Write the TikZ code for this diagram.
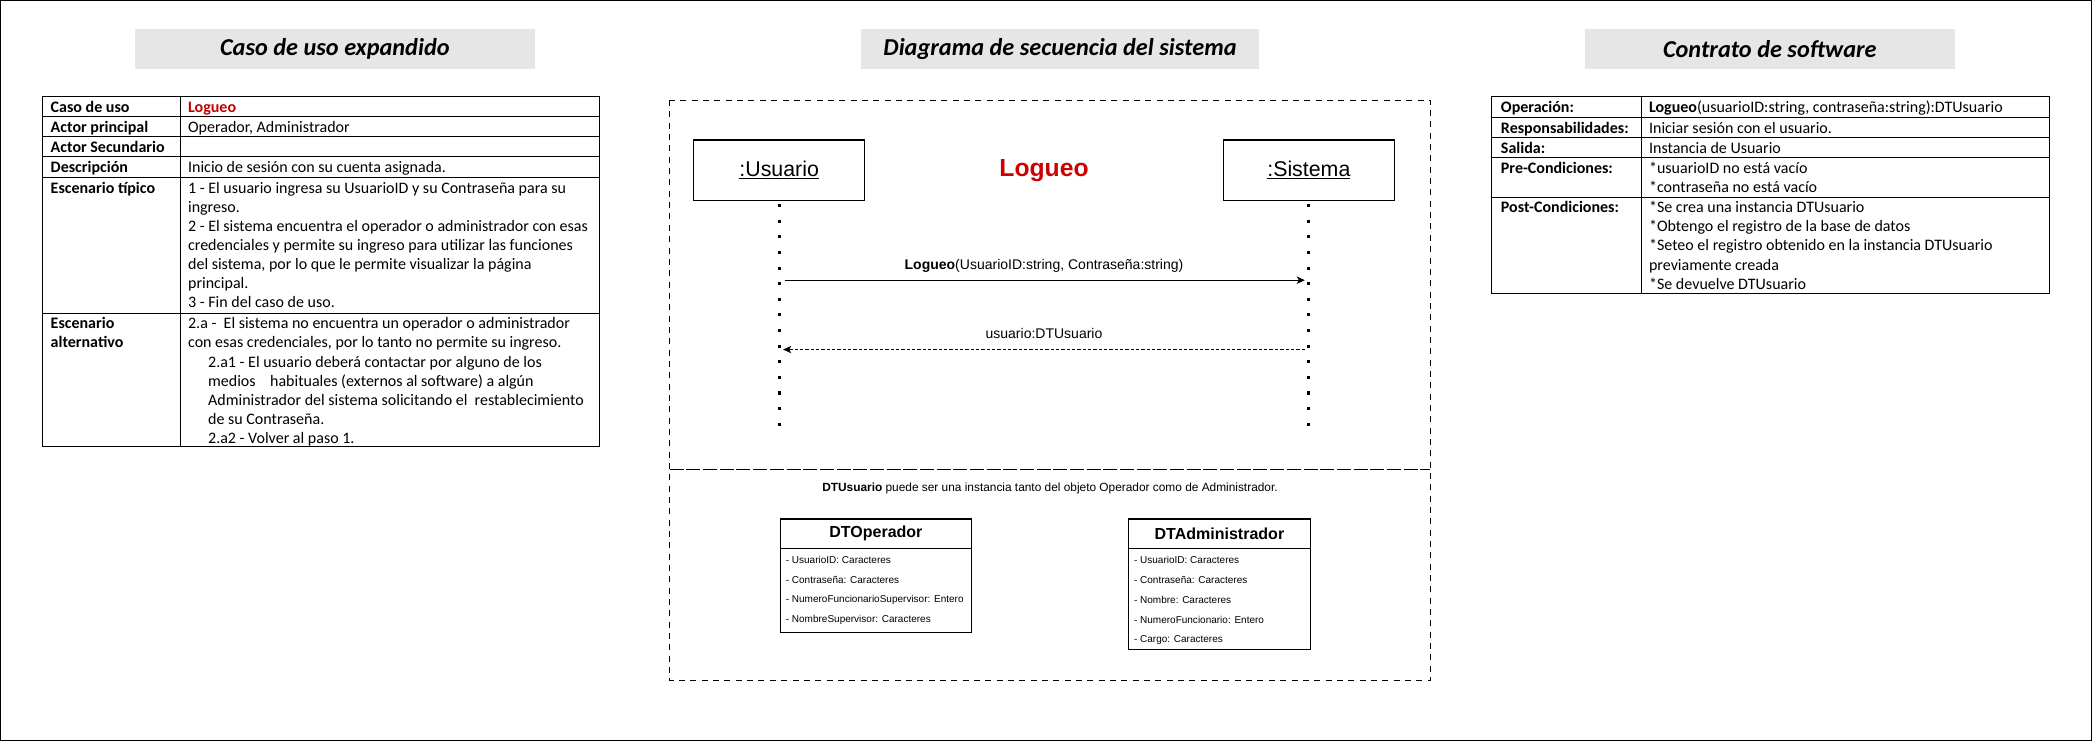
\documentclass[tikz,border=0pt]{standalone}
\usepackage{fontspec}
\setmainfont{Carlito}
\newfontfamily\arialf{Liberation Sans}
\usetikzlibrary{arrows.meta}
\definecolor{ttlgray}{HTML}{E6E6E6}
\definecolor{lred}{HTML}{C00000}
\definecolor{sred}{HTML}{CC0000}
\begin{document}
\begin{tikzpicture}[x=1pt,y=-1pt,
  every node/.style={inner sep=0pt, outer sep=0pt},
  grid/.style={draw=black, line width=0.8pt},
  lab/.style={anchor=base west, font=\fontsize{12}{14.3}\selectfont\bfseries},
  val/.style={anchor=base west, font=\fontsize{12}{14.3}\selectfont},
  ttl/.style={fill=ttlgray, minimum height=30pt, font=\fontsize{18.2}{20}\selectfont\bfseries\itshape},
  actor/.style={draw=black, line width=0.9pt, minimum width=128pt, minimum height=45pt, font=\arialf\fontsize{16}{18}\selectfont},
  lifeline/.style={line width=2.3pt, dash pattern=on 2.3pt off 9.4pt},
  msg/.style={line width=0.9pt, -{Stealth[length=6pt,width=5.5pt,inset=1.5pt]}},
  retmsg/.style={msg, dash pattern=on 2.5pt off 1.5pt},
  msglab/.style={anchor=base, font=\arialf\fontsize{10.5}{12}\selectfont},
  clshead/.style={draw=black, line width=0.8pt, anchor=north west, minimum height=22pt, font=\arialf\bfseries\fontsize{12}{14}\selectfont},
  clsbody/.style={draw=black, line width=0.8pt, anchor=north west},
  attr/.style={anchor=west, font=\arialf\fontsize{7.5}{9}\selectfont},
  frame/.style={line width=0.75pt, dash pattern=on 4.5pt off 4pt},
  divider/.style={line width=0.75pt, dash pattern=on 10.5pt off 2pt}
]
\useasboundingbox (0,0) rectangle (1568,555.4);
\draw[line width=1pt] (0.5,0.5) rectangle (1567.5,554.9);

% ---- titles
\node[ttl, minimum width=300pt] (t1) at (251,37) {Caso de uso expandido};
\node[ttl, minimum width=299pt] (t2) at (794.5,37) {Diagrama de secuencia del sistema};
\node[ttl, minimum width=277pt] (t3) at (1326.5,37) {Contrato de software};

% ---- left table
\draw[grid] (32,72) rectangle (449,335);
\draw[grid] (135,72) -- (135,335);
\foreach \yy in {87,102,117,133,235} \draw[grid] (32,\yy) -- (449,\yy);
\node[lab] (la1) at (38,84) {Caso de uso};
\node[lab, text=lred] (lb1) at (141,84) {Logueo};
\node[lab] (la2) at (38,99) {Actor principal};
\node[val] (lb2) at (141,99) {Operador, Administrador};
\node[lab] (la3) at (38,114) {Actor Secundario};
\node[lab] (la4) at (38,129.5) {Descripción};
\node[val] (lb4) at (141,129.5) {Inicio de sesión con su cuenta asignada.};
\node[lab] (la5) at (38,145) {Escenario típico};
\foreach \t [count=\i] in {
  {1 - El usuario ingresa su UsuarioID y su Contraseña para su},
  {ingreso.},
  {2 - El sistema encuentra el operador o administrador con esas},
  {credenciales y permite su ingreso para utilizar las funciones},
  {del sistema, por lo que le permite visualizar la página},
  {principal.},
  {3 - Fin del caso de uso.}}
  \node[val] (esc\i) at (141,145+14.3*\i-14.3) {\t};
\node[lab] (la6a) at (38,246.5) {Escenario};
\node[lab] (la6b) at (38,260.8) {alternativo};
\foreach \t/\xx [count=\i] in {
  {2.a -\ \ El sistema no encuentra un operador o administrador}/141,
  {con esas credenciales, por lo tanto no permite su ingreso.}/141,
  {2.a1 - El usuario deberá contactar por alguno de los}/156,
  {medios\ \ \ \ habituales (externos al software) a algún}/156,
  {Administrador del sistema solicitando el\ \ restablecimiento}/156,
  {de su Contraseña.}/156,
  {2.a2 - Volver al paso 1.}/156}
  \node[val] (alt\i) at (\xx,246.5+14.3*\i-14.3) {\t};

% ---- right table
\draw[grid] (1118,72) rectangle (1536,220);
\draw[grid] (1230,72) -- (1230,220);
\foreach \yy in {88,103,118,148} \draw[grid] (1118,\yy) -- (1536,\yy);
\node[lab] (ra1) at (1125,84.5) {Operación:};
\node[val] (rb1) at (1236,84.5) {\textbf{Logueo}(usuarioID:string, contraseña:string):DTUsuario};
\node[lab] (ra2) at (1125,100) {Responsabilidades:};
\node[val] (rb2) at (1236,100) {Iniciar sesión con el usuario.};
\node[lab] (ra3) at (1125,115) {Salida:};
\node[val] (rb3) at (1236,115) {Instancia de Usuario};
\node[lab] (ra4) at (1125,130) {Pre-Condiciones:};
\node[val] (rb4a) at (1236,130) {*usuarioID no está vacío};
\node[val] (rb4b) at (1236,144.3) {*contraseña no está vacío};
\node[lab] (ra5) at (1125,159.5) {Post-Condiciones:};
\foreach \t [count=\i] in {
  {*Se crea una instancia DTUsuario},
  {*Obtengo el registro de la base de datos},
  {*Seteo el registro obtenido en la instancia DTUsuario},
  {previamente creada},
  {*Se devuelve DTUsuario}}
  \node[val] (post\i) at (1236,159.5+14.3*\i-14.3) {\t};

% ---- sequence diagram
\draw[frame] (502,75) rectangle (1072,510);
\coordinate (dvl) at (502,352);
\coordinate (dvr) at (1072,352);
\draw[divider] (dvl) -- (dvr);

\node[actor] (usr) at (584,127.5) {\underline{:Usuario}};
\node[actor] (sys) at (981,127.5) {\underline{:Sistema}};
\node[font=\arialf\bfseries\fontsize{18.5}{20}\selectfont, text=sred] (logt) at (782.5,128) {Logueo};

\coordinate (usrEnd) at (584,324);
\coordinate (sysEnd) at (981,324);
\draw[lifeline] ([yshift=-3pt]usr.south) -- (usrEnd);
\draw[lifeline] ([yshift=-3pt]sys.south) -- (sysEnd);

\coordinate (m1s) at (588,210);
\coordinate (m1e) at (978,210);
\draw[msg] (m1s) -- (m1e);
\node[msglab] (m1l) at (782.5,202) {\textbf{Logueo}(UsuarioID:string, Contraseña:string)};

\coordinate (m2s) at (978,262);
\coordinate (m2e) at (587,262);
\draw[retmsg] (m2s) -- (m2e);
\node[msglab] (m2l) at (782.5,254) {usuario:DTUsuario};

\node[font=\arialf\fontsize{8.9}{10}\selectfont] (note) at (787,366) {\textbf{DTUsuario} puede ser una instancia tanto del objeto Operador como de Administrador.};

% ---- classes
\node[clshead, minimum width=143pt] (opH) at (585,389) {DTOperador};
\node[clsbody, minimum width=143pt, minimum height=63pt] (opB) at (opH.south west) {};
\foreach \t [count=\i] in {
  {- UsuarioID: Caracteres},
  {- Contraseña: Caracteres},
  {- NumeroFuncionarioSupervisor: Entero},
  {- NombreSupervisor: Caracteres}}
  \node[attr] (opa\i) at (589,420+15*\i-15) {\t};

\node[clshead, minimum width=136pt] (adH) at (846,389) {DTAdministrador};
\node[clsbody, minimum width=136pt, minimum height=76pt] (adB) at (adH.south west) {};
\foreach \t [count=\i] in {
  {- UsuarioID: Caracteres},
  {- Contraseña: Caracteres},
  {- Nombre: Caracteres},
  {- NumeroFuncionario: Entero},
  {- Cargo: Caracteres}}
  \node[attr] (ada\i) at (850,420+15*\i-15) {\t};
\end{tikzpicture}
\end{document}
